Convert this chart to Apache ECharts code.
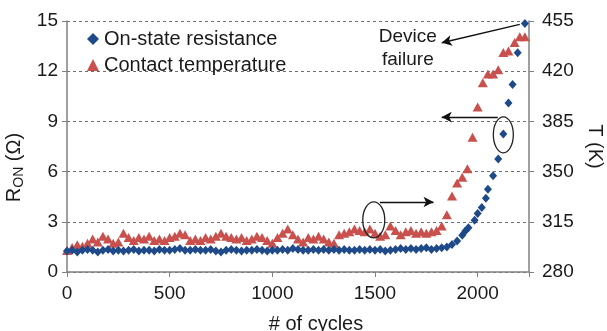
<!DOCTYPE html>
<html>
<head>
<meta charset="utf-8">
<script src="https://cdn.jsdelivr.net/npm/echarts@6/dist/echarts.min.js"></script>
<style>
  html, body { margin: 0; padding: 0; background: #fff; }
  #chart { width: 607px; height: 331px; }
</style>
</head>
<body>
<div id="chart"></div>
<script>
// cycle numbers (x) for each series
var resCycles = [0, 25, 50, 75, 100, 125, 150, 175, 200, 225,
  250, 275, 300, 325, 350, 375, 400, 425, 450, 475,
  500, 525, 550, 575, 600, 625, 650, 675, 700, 725,
  750, 775, 800, 825, 850, 875, 900, 925, 950, 975,
  1000, 1025, 1050, 1075, 1100, 1125, 1150, 1175, 1200, 1225,
  1250, 1275, 1300, 1325, 1350, 1375, 1400, 1425, 1450, 1475,
  1500, 1525, 1550, 1575, 1600, 1625, 1650, 1675, 1700, 1725,
  1750, 1775, 1800, 1825, 1850,
  1875, 1900, 1925, 1940, 1955, 1985, 2000, 2020, 2040, 2050,
  2075, 2100, 2125, 2150, 2170, 2195, 2230]
// on-state resistance (ohm)
var resValues = [1.25, 1.3, 1.2, 1.3, 1.35, 1.3, 1.2, 1.3, 1.35, 1.25,
  1.3, 1.25, 1.3, 1.35, 1.25, 1.3, 1.3, 1.25, 1.35, 1.3,
  1.3, 1.35, 1.4, 1.3, 1.3, 1.35, 1.3, 1.3, 1.35, 1.25,
  1.2, 1.3, 1.35, 1.3, 1.25, 1.3, 1.3, 1.35, 1.3, 1.25,
  1.3, 1.3, 1.35, 1.3, 1.4, 1.35, 1.3, 1.3, 1.35, 1.3,
  1.35, 1.3, 1.35, 1.3, 1.35, 1.3, 1.3, 1.35, 1.3, 1.35,
  1.3, 1.35, 1.25, 1.3, 1.35, 1.4, 1.35, 1.4, 1.35, 1.4,
  1.45, 1.35, 1.4, 1.45, 1.5,
  1.65, 1.85, 2.2, 2.45, 2.65, 3.1, 3.5, 3.85, 4.4, 4.95,
  5.75, 6.75, 8.25, 10.1, 11.2, 13.1, 14.85]

var tempCycles = [0, 25, 50, 75, 100, 125, 150, 175, 200, 225,
  250, 275, 300, 325, 350, 375, 400, 425, 450, 475,
  500, 525, 550, 575, 600, 625, 650, 675, 700, 725,
  750, 775, 800, 825, 850, 875, 900, 925, 950, 975,
  1000, 1025, 1050, 1075, 1100, 1125, 1150, 1175, 1200, 1225,
  1250, 1275, 1300, 1325, 1350, 1375, 1400, 1425, 1450, 1475,
  1500, 1525, 1550, 1575, 1600, 1625, 1650, 1675, 1700, 1725,
  1750, 1775, 1800, 1825, 1850,
  1875, 1900, 1925, 1950, 1975, 2000, 2025, 2050, 2075, 2100,
  2125, 2150, 2180, 2205, 2230]
// contact temperature (K)
var tempValues = [295, 297, 299, 298, 300, 303, 301, 305, 303, 300,
  301, 307, 304, 302, 304, 303, 305, 302, 303, 302,
  304, 305, 307, 306, 302, 303, 302, 304, 303, 305,
  307, 305, 304, 303, 304, 302, 303, 305, 304, 302,
  300, 304, 307, 310, 306, 303, 301, 304, 303, 305,
  303, 301, 300, 306, 307, 308, 310, 309, 308, 310,
  307, 305, 306, 312, 309, 306, 308, 309, 307, 308,
  307, 308, 309, 312, 320,
  333, 342, 346, 352, 374, 395, 412, 418, 418, 421,
  433, 434, 440, 444, 444]

var resTicks = [0, 3, 6, 9, 12, 15]
var tempTicks = [280, 315, 350, 385, 420, 455]
var cycleTicks = [0, 500, 1000, 1500, 2000]

var FONT = 'Liberation Sans, Arial, sans-serif'
var AXIS_GRAY = '#808080'

function pairs(xs, ys) {
  return xs.map(function (x, i) { return [x, ys[i]] })
}

var chart = echarts.init(document.getElementById('chart'))

var arrowLine = {
  silent: true,
  symbol: ['none', 'arrow'],
  symbolSize: [8, 10],
  label: { show: false },
  lineStyle: { color: '#111', width: 1.3, type: 'solid' },
  emphasis: { disabled: true },
  animation: false
}

var option = {
  animation: false,
  textStyle: { fontFamily: FONT },
  grid: { left: 67, right: 78, top: 21, bottom: 59, outerBoundsMode: 'none', containLabel: false },
  legend: {
    orient: 'vertical',
    left: 82,
    top: 24,
    itemWidth: 12,
    itemHeight: 12,
    itemGap: 6,
    textStyle: { fontFamily: FONT, fontSize: 20, color: '#1a1a1a' },
    data: ['On-state resistance', 'Contact temperature']
  },
  xAxis: {
    type: 'value',
    min: 0,
    max: 2250,
    interval: 500,
    name: '# of cycles',
    nameLocation: 'middle',
    nameGap: 42,
    nameTextStyle: { fontFamily: FONT, fontSize: 20, color: '#1a1a1a', padding: [0, 0, 0, 36] },
    axisLine: { lineStyle: { color: AXIS_GRAY, width: 1.5 } },
    axisTick: { show: true, length: 5, lineStyle: { color: AXIS_GRAY } },
    splitLine: { show: false },
    axisLabel: {
      fontFamily: FONT, fontSize: 19, color: '#1a1a1a', margin: 12,
      formatter: function (v) { return cycleTicks.indexOf(v) >= 0 ? String(v) : '' }
    }
  },
  yAxis: [
    {
      type: 'value',
      min: resTicks[0],
      max: resTicks[resTicks.length - 1],
      interval: 3,
      position: 'left',
      name: '{a|R}{b|ON}{a| (Ω)}',
      nameLocation: 'middle',
      nameRotate: 90,
      nameGap: 34,
      nameTextStyle: {
        padding: [0, 42, 0, 0],
        rich: {
          a: { fontFamily: FONT, fontSize: 20, color: '#1a1a1a' },
          b: { fontFamily: FONT, fontSize: 14, color: '#1a1a1a', padding: [8, 0, 0, 0] }
        }
      },
      axisLine: { show: true, lineStyle: { color: AXIS_GRAY, width: 1.5 } },
      axisTick: { show: true, length: 5, lineStyle: { color: AXIS_GRAY } },
      axisLabel: { fontFamily: FONT, fontSize: 19, color: '#1a1a1a', margin: 9 },
      splitLine: { show: true, lineStyle: { color: '#6e6e6e', type: [3, 3], width: 1 } }
    },
    {
      type: 'value',
      min: tempTicks[0],
      max: tempTicks[tempTicks.length - 1],
      interval: 35,
      position: 'right',
      name: 'T (K)',
      nameLocation: 'middle',
      nameRotate: -90,
      nameGap: 56,
      nameTextStyle: { fontFamily: FONT, fontSize: 20, color: '#1a1a1a' },
      axisLine: { show: true, lineStyle: { color: AXIS_GRAY, width: 1.5 } },
      axisTick: { show: true, length: 5, lineStyle: { color: AXIS_GRAY } },
      axisLabel: { fontFamily: FONT, fontSize: 19, color: '#1a1a1a', margin: 13 },
      splitLine: { show: false }
    }
  ],
  series: [
    {
      name: 'On-state resistance',
      type: 'scatter',
      yAxisIndex: 0,
      symbol: 'diamond',
      symbolSize: [8, 9],
      z: 3,
      itemStyle: { color: '#1f4a8a', opacity: 1 },
      data: pairs(resCycles, resValues),
      markLine: Object.assign({}, arrowLine, {
        data: [
          [{ coord: [2205, 14.8] }, { coord: [1825, 13.7] }],
          [{ coord: [2098, 9.26] }, { coord: [1825, 9.26] }]
        ]
      })
    },
    {
      name: 'Contact temperature',
      type: 'scatter',
      yAxisIndex: 1,
      symbol: 'triangle',
      symbolSize: [10, 9],
      z: 2,
      itemStyle: { color: '#c9504d', opacity: 1 },
      data: pairs(tempCycles, tempValues),
      markLine: Object.assign({}, arrowLine, {
        data: [
          [{ coord: [1524, 328.8] }, { coord: [1785, 328.8] }]
        ]
      })
    }
  ]
}

chart.setOption(option)

// callout ellipses and the "Device failure" label, anchored to data positions
var e1 = chart.convertToPixel({ seriesIndex: 0 }, [2125, 8.2])
var e2 = chart.convertToPixel({ seriesIndex: 1 }, [1494, 316.3])
var lbl = chart.convertToPixel({ seriesIndex: 0 }, [1660, 13.4])

chart.setOption({
  graphic: [
    { type: 'ellipse', shape: { cx: e1[0], cy: e1[1], rx: 10, ry: 18 },
      style: { fill: 'none', stroke: '#222', lineWidth: 1.3 }, z: 10 },
    { type: 'ellipse', shape: { cx: e2[0], cy: e2[1], rx: 11, ry: 18 },
      style: { fill: 'none', stroke: '#222', lineWidth: 1.3 }, z: 10 },
    { type: 'text', x: lbl[0], y: lbl[1], z: 10,
      style: { text: 'Device\nfailure', fontFamily: FONT, fontSize: 19, lineHeight: 23,
        fill: '#1a1a1a', align: 'center', verticalAlign: 'middle' } }
  ]
})
</script>
</body>
</html>
